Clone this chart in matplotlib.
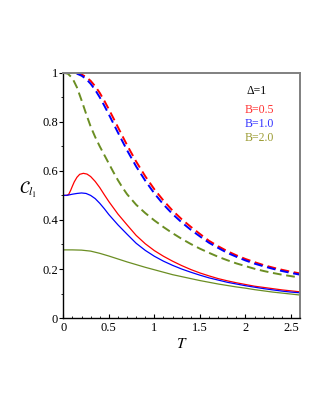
import matplotlib.pyplot as plt
from matplotlib.ticker import MultipleLocator, FuncFormatter

plt.rcParams['font.family'] = ['Liberation Serif', 'DejaVu Serif']
plt.rcParams['mathtext.fontset'] = 'stix'

# dashed curves (upper set)
t_red_d = [0, 0.1, 0.15, 0.2, 0.25, 0.3, 0.35, 0.4, 0.45, 0.5, 0.55, 0.6, 0.7, 0.8, 0.9, 1.0,
           1.1, 1.2, 1.3, 1.4, 1.5, 1.6, 1.7, 1.8, 1.9, 2.0, 2.1, 2.2, 2.3, 2.4, 2.5, 2.6]
c_red_d = [1.0, 1.0, 0.998, 0.993, 0.983, 0.967, 0.945, 0.918, 0.886, 0.851, 0.815, 0.778, 0.705, 0.638, 0.578, 0.525,
           0.479, 0.438, 0.403, 0.372, 0.343, 0.315, 0.293, 0.273, 0.256, 0.241, 0.228, 0.216, 0.206, 0.197, 0.189, 0.182]

t_blue_d = [0, 0.1, 0.15, 0.2, 0.25, 0.3, 0.35, 0.4, 0.45, 0.5, 0.55, 0.6, 0.7, 0.8, 0.9, 1.0,
            1.1, 1.2, 1.3, 1.4, 1.5, 1.6, 1.7, 1.8, 1.9, 2.0, 2.1, 2.2, 2.3, 2.4, 2.5, 2.6]
c_blue_d = [1.0, 1.0, 0.996, 0.988, 0.975, 0.955, 0.93, 0.9, 0.866, 0.83, 0.793, 0.756, 0.684, 0.618, 0.56, 0.508,
            0.463, 0.424, 0.39, 0.36, 0.333, 0.307, 0.286, 0.266, 0.25, 0.235, 0.222, 0.211, 0.201, 0.192, 0.184, 0.177]

t_green_d = [0, 0.05, 0.1, 0.15, 0.2, 0.25, 0.3, 0.35, 0.4, 0.45, 0.5, 0.55, 0.6, 0.65, 0.7, 0.8, 0.9, 1.0,
             1.1, 1.2, 1.3, 1.4, 1.5, 1.6, 1.7, 1.8, 1.9, 2.0, 2.1, 2.2, 2.3, 2.4, 2.5, 2.6]
c_green_d = [1.0, 0.996, 0.978, 0.94, 0.888, 0.833, 0.781, 0.738, 0.70, 0.665, 0.63, 0.595, 0.562, 0.532, 0.505, 0.462, 0.428, 0.398,
             0.371, 0.346, 0.323, 0.302, 0.283, 0.266, 0.25, 0.236, 0.223, 0.212, 0.201, 0.192, 0.184, 0.177, 0.171, 0.165]

# solid curves (lower set)
t_red_s = [0, 0.04, 0.06, 0.08, 0.1, 0.12, 0.15, 0.18, 0.22, 0.26, 0.3, 0.35, 0.4, 0.45, 0.5, 0.6, 0.7, 0.8, 0.9, 1.0,
           1.1, 1.2, 1.3, 1.4, 1.5, 1.6, 1.7, 1.8, 1.9, 2.0, 2.1, 2.2, 2.3, 2.4, 2.5, 2.6]
c_red_s = [0.5, 0.5, 0.505, 0.52, 0.538, 0.555, 0.574, 0.586, 0.59, 0.587, 0.577, 0.557, 0.532, 0.503, 0.475, 0.424, 0.38, 0.337, 0.303, 0.275,
           0.252, 0.232, 0.214, 0.198, 0.184, 0.172, 0.161, 0.152, 0.144, 0.137, 0.13, 0.125, 0.12, 0.115, 0.111, 0.107]

t_blue_s = [0, 0.05, 0.1, 0.15, 0.2, 0.25, 0.3, 0.35, 0.4, 0.45, 0.5, 0.6, 0.7, 0.8, 0.9, 1.0,
            1.1, 1.2, 1.3, 1.4, 1.5, 1.6, 1.7, 1.8, 1.9, 2.0, 2.1, 2.2, 2.3, 2.4, 2.5, 2.6]
c_blue_s = [0.5, 0.501, 0.505, 0.508, 0.51, 0.508, 0.5, 0.487, 0.468, 0.446, 0.422, 0.38, 0.342, 0.305, 0.276, 0.252,
            0.232, 0.215, 0.2, 0.187, 0.175, 0.164, 0.155, 0.146, 0.139, 0.132, 0.126, 0.12, 0.115, 0.11, 0.106, 0.103]

t_green_s = [0, 0.1, 0.2, 0.3, 0.4, 0.5, 0.6, 0.7, 0.8, 0.9, 1.0, 1.1, 1.2, 1.3, 1.4,
             1.5, 1.6, 1.7, 1.8, 1.9, 2.0, 2.1, 2.2, 2.3, 2.4, 2.5, 2.6]
c_green_s = [0.278, 0.278, 0.277, 0.273, 0.264, 0.253, 0.241, 0.229, 0.218, 0.207, 0.197, 0.187, 0.177, 0.169, 0.161,
             0.153, 0.146, 0.139, 0.133, 0.127, 0.122, 0.116, 0.111, 0.106, 0.102, 0.098, 0.094]

labels = ['B=0.5', 'B=1.0', 'B=2.0']
line_colors = ['#ff0000', '#0000ff', '#6b8e23']
text_colors = ['#ff3030', '#3030ff', '#9a9a30']

fig = plt.figure(figsize=(3.23, 4.18), dpi=100)
ax = fig.add_axes([0.196, 0.239, 0.733, 0.587])

dash = (0, (4.5, 2.4))
ax.plot(t_green_d, c_green_d, color=line_colors[2], lw=1.4, ls=dash)
ax.plot(t_red_d, c_red_d, color=line_colors[0], lw=1.4, ls=dash)
ax.plot(t_blue_d, c_blue_d, color=line_colors[1], lw=1.4, ls=dash)

ax.plot(t_green_s, c_green_s, color=line_colors[2], lw=0.9)
ax.plot(t_red_s, c_red_s, color=line_colors[0], lw=0.9)
ax.plot(t_blue_s, c_blue_s, color=line_colors[1], lw=0.9)

ax.set_xlim(0, 2.6)
ax.set_ylim(0, 1)

ax.xaxis.set_major_locator(MultipleLocator(0.5))
ax.xaxis.set_minor_locator(MultipleLocator(0.1))
ax.yaxis.set_major_locator(MultipleLocator(0.2))
ax.yaxis.set_minor_locator(MultipleLocator(0.1))
fmt = FuncFormatter(lambda v, p: ('%g' % round(v, 2)))
ax.xaxis.set_major_formatter(fmt)
ax.yaxis.set_major_formatter(fmt)

ax.tick_params(axis='x', direction='in', which='major', length=3, width=0.8, labelsize=9, pad=3)
ax.tick_params(axis='x', direction='in', which='minor', length=1.8, width=0.6)
ax.tick_params(axis='y', direction='out', which='major', length=3, width=0.8, labelsize=9, pad=1)
ax.tick_params(axis='y', direction='out', which='minor', length=1.8, width=0.6)

for s in ['left', 'bottom']:
    ax.spines[s].set_color('black')
    ax.spines[s].set_linewidth(1.0)
for s in ['top', 'right']:
    ax.spines[s].set_color('#808080')
    ax.spines[s].set_linewidth(1.4)

ax.set_xlabel('$T$', fontsize=11, labelpad=2)
ax.set_ylabel(r'$\mathcal{C}_{l_1}$', fontsize=12, rotation=0)
ax.yaxis.set_label_coords(-0.15, 0.48)

ax.text(0.775, 0.915, 'Δ=1', transform=ax.transAxes, fontsize=8.5, color='black')
for i, lab in enumerate(labels):
    ax.text(0.765, 0.835 - i * 0.057, lab, transform=ax.transAxes, fontsize=8.5, color=text_colors[i])

fig.savefig('out.png', dpi=100)
